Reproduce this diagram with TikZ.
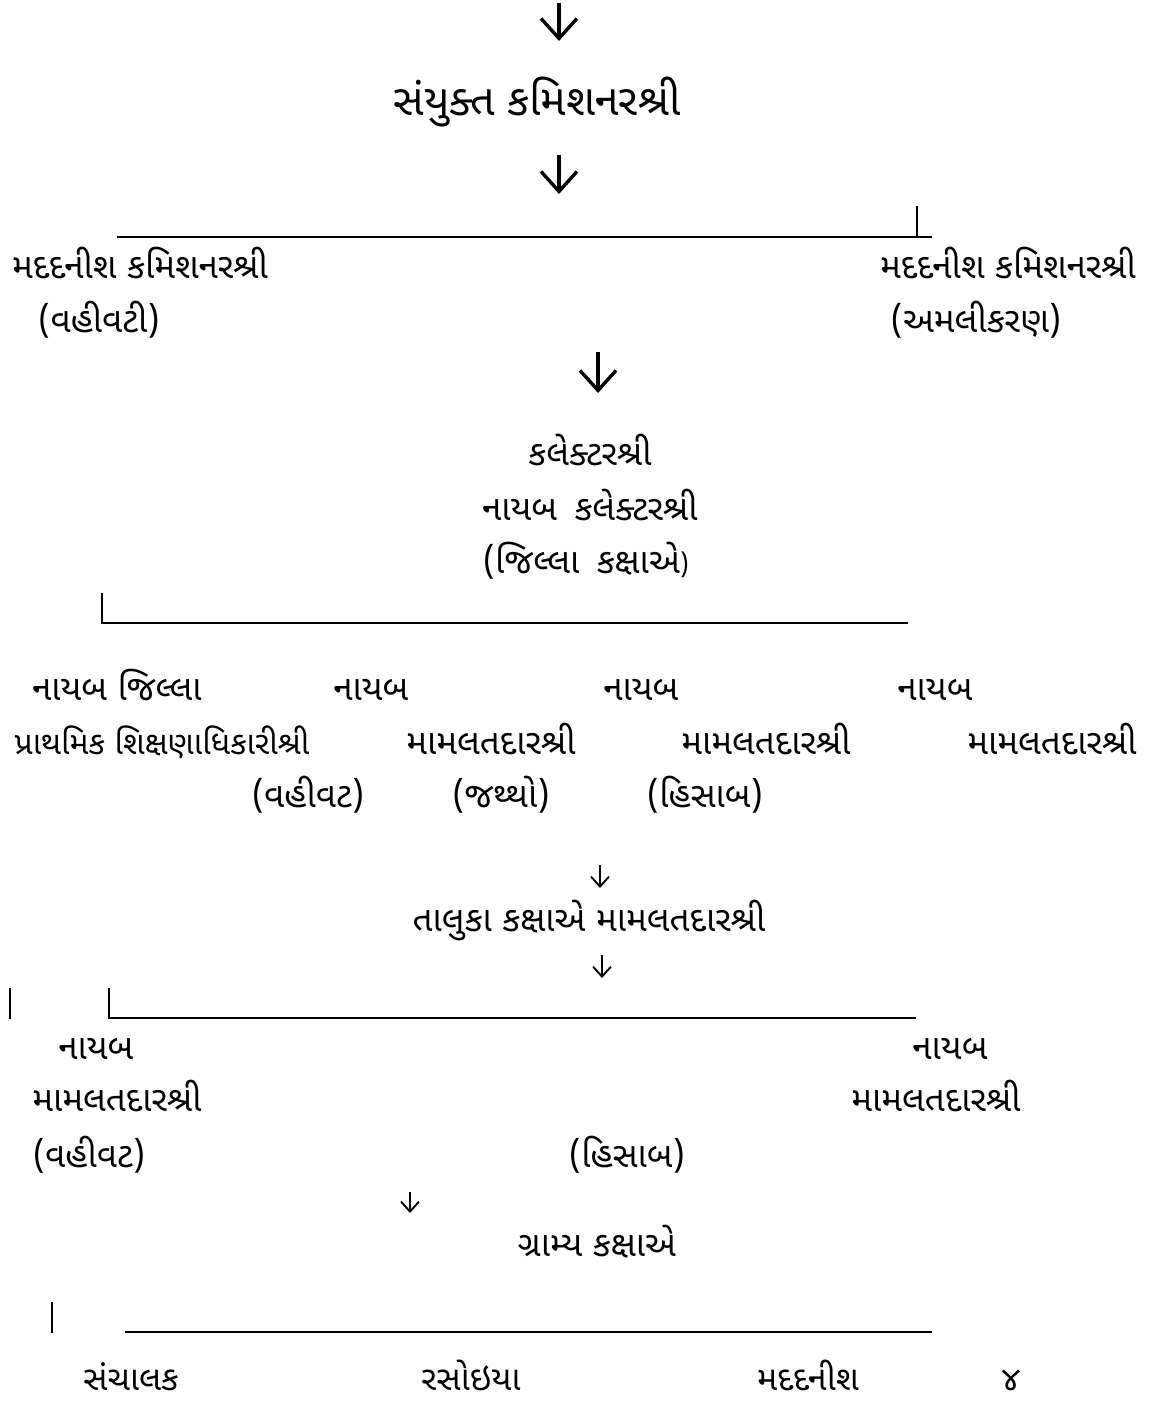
\documentclass[tikz,border=0pt]{standalone}
\usepackage{fontspec}
\usetikzlibrary{arrows.meta}
\newfontfamily\guj[Script=Gujarati]{Noto Sans Gujarati UI}
\begin{document}
\begin{tikzpicture}[x=1pt,y=-1pt,
  txt/.style={font=\guj\fontsize{35}{40}\selectfont, inner sep=0pt, text height=25pt, text depth=9pt, anchor=center, yshift=-4pt},
  bottxt/.style={font=\guj\fontsize{34}{38}\selectfont, inner sep=0pt, text height=24pt, text depth=0pt, anchor=base},
  bigtxt/.style={font=\guj\fontsize{43}{48}\selectfont, inner sep=0pt, text height=31pt, text depth=11pt, anchor=center, yshift=-3pt},
  bigarrow/.style={line width=3.4pt, -{Straight Barb[length=20pt,width=36pt]}},
  smallarrow/.style={line width=1.9pt, -{Straight Barb[length=10pt,width=18pt]}},
  rule/.style={line width=2.8pt},
  bar/.style={line width=2.2pt}]
\path[use as bounding box, fill=white] (0,0) rectangle (1152,1403);

% top
\coordinate (a1s) at (559,3);  \coordinate (a1e) at (559,41);
\draw[bigarrow] (a1s) -- (a1e);
\node[bigtxt] (jc) at (537,102) {સંયુક્ત કમિશનરશ્રી};
\coordinate (a2s) at (559,155); \coordinate (a2e) at (559,194);
\draw[bigarrow] (a2s) -- (a2e);

% first bracket
\coordinate (b1l) at (117,237); \coordinate (b1r) at (932,237); \coordinate (b1t) at (917,206); \coordinate (b1b) at (917,237);
\draw[rule] (b1l) -- (b1r);
\draw[bar] (b1t) -- (b1b);

\node[txt] (ac1) at (140,266) {મદદનીશ કમિશનરશ્રી};
\node[txt] (ac2) at (1008,266) {મદદનીશ કમિશનરશ્રી};
\node[txt] (ac1s) at (99,320) {(વહીવટી)};
\node[txt] (ac2s) at (976,320) {(અમલીકરણ)};

\coordinate (a3s) at (598,352); \coordinate (a3e) at (598,393);
\draw[bigarrow] (a3s) -- (a3e);

\node[txt] (col) at (590,453) {કલેક્ટરશ્રી};
\node[txt] (dcol) at (590,508) {નાયબ\hspace{0.2em} કલેક્ટરશ્રી};
\node[txt] (dist) at (586,561) {(જિલ્લા\hspace{0.2em} કક્ષાએ{\fontsize{26}{30}\selectfont)}};

% second bracket
\coordinate (b2t) at (102,593); \coordinate (b2c) at (102,623); \coordinate (b2r) at (908,623);
\draw[rule] (b2t) -- (b2c) -- (b2r);

% district row
\node[txt] (d1a) at (117,688) {નાયબ જિલ્લા};
\node[txt] (d2a) at (371,688) {નાયબ};
\node[txt] (d3a) at (641,688) {નાયબ};
\node[txt] (d4a) at (935,688) {નાયબ};
\node[txt, font=\guj\fontsize{32}{38}\selectfont] (d1b) at (162,742) {પ્રાથમિક શિક્ષણાધિકારીશ્રી};
\node[txt] (d2b) at (491,742) {મામલતદારશ્રી};
\node[txt] (d3b) at (766,742) {મામલતદારશ્રી};
\node[txt] (d4b) at (1052,742) {મામલતદારશ્રી};
\node[txt] (d2c) at (308,795) {(વહીવટ)};
\node[txt] (d3c) at (501,795) {(જથ્થો)};
\node[txt] (d4c) at (705,795) {(હિસાબ)};

\coordinate (a4s) at (600,865); \coordinate (a4e) at (600,888);
\draw[smallarrow] (a4s) -- (a4e);
\node[txt] (tal) at (589,919) {તાલુકા કક્ષાએ મામલતદારશ્રી};
\coordinate (a5s) at (602,955); \coordinate (a5e) at (602,978);
\draw[smallarrow] (a5s) -- (a5e);

% third bracket
\coordinate (bar1t) at (10,988); \coordinate (bar1b) at (10,1019);
\draw[bar] (bar1t) -- (bar1b);
\coordinate (b3t) at (109,988); \coordinate (b3c) at (109,1018); \coordinate (b3r) at (916,1018);
\draw[rule] (b3t) -- (b3c) -- (b3r);

\node[txt] (t1a) at (96,1047) {નાયબ};
\node[txt] (t2a) at (950,1047) {નાયબ};
\node[txt] (t1b) at (117,1099) {મામલતદારશ્રી};
\node[txt] (t2b) at (936,1099) {મામલતદારશ્રી};
\node[txt] (t1c) at (89,1155) {(વહીવટ)};
\node[txt] (t2c) at (627,1155) {(હિસાબ)};

\coordinate (a6s) at (410,1192); \coordinate (a6e) at (410,1213);
\draw[smallarrow] (a6s) -- (a6e);
\node[txt] (vil) at (597,1244) {ગ્રામ્ય કક્ષાએ};

% fourth bracket
\coordinate (bar2t) at (52,1302); \coordinate (bar2b) at (52,1333);
\draw[bar] (bar2t) -- (bar2b);
\coordinate (b4l) at (125,1332); \coordinate (b4r) at (932,1332);
\draw[rule] (b4l) -- (b4r);

\node[bottxt] (v1) at (131,1390) {સંચાલક};
\node[bottxt] (v2) at (471,1390) {રસોઇયા};
\node[bottxt] (v3) at (808,1390) {મદદનીશ};
\node[bottxt] (v4) at (1011,1390) {૪};
\end{tikzpicture}
\end{document}
